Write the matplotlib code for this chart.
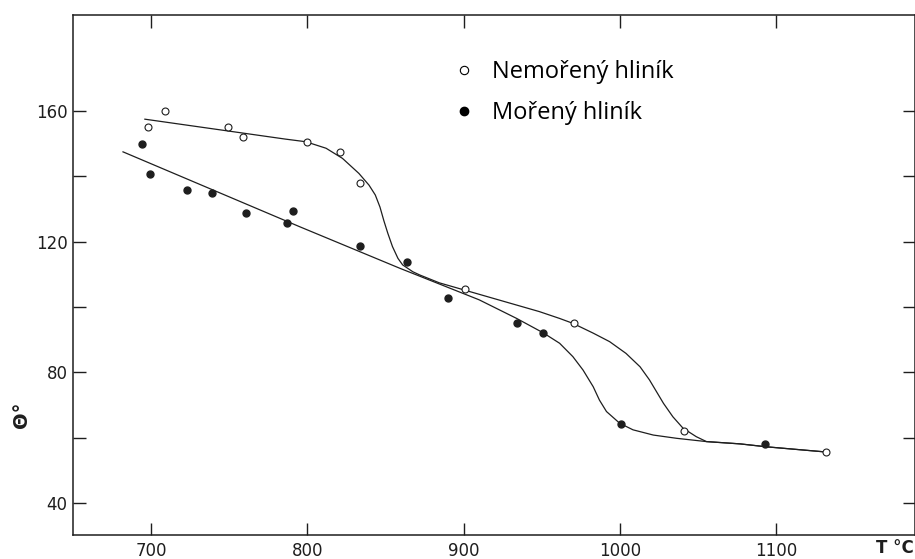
import matplotlib.pyplot as plt
from matplotlib.lines import Line2D

# measured points, open circles (Nemoreny)
open_T = [698, 709, 749, 759, 800, 821, 834, 901, 971, 1041, 1132]
open_theta = [155, 160, 155, 152, 150.5, 147.5, 138, 105.6, 95.2, 62.1, 55.7]

# measured points, filled circles (Moreny)
filled_T = [694, 699, 723, 739, 761, 787, 791, 834, 864, 890, 934, 951, 1001, 1093]
filled_theta = [150, 140.7, 135.8, 134.9, 128.8, 125.7, 129.4, 118.7, 113.8, 102.8,
                95.2, 92.1, 64.3, 58.2]

# hand drawn guide curves
open_curve_T = [696, 786, 799, 812, 822.5, 833, 839.5, 843.5, 846.5, 849, 851.5, 854.5,
                858, 861, 867.5, 872, 884.5, 900.5, 948.5, 961.5, 970, 983, 993.5,
                1004, 1013, 1019, 1023.5, 1028, 1034, 1040.5, 1049, 1055.5, 1077,
                1094, 1130]
open_curve_theta = [157.5, 151.4, 150.6, 148.6, 145.5, 140.9, 137.3, 134.3, 130.6,
                    126.4, 122.6, 118.5, 114.9, 112.9, 110.8, 109.8, 107.4, 105.2,
                    98.6, 96.5, 95.0, 92.0, 89.4, 85.8, 81.7, 77.7, 74.1, 70.5, 66.4,
                    62.9, 60.3, 58.8, 58.1, 57.2, 55.7]

filled_curve_T = [682, 795, 859, 910, 934, 951, 961.5, 970, 976.5, 983, 987, 991.5,
                  1000, 1008.5, 1021.5, 1036.5, 1055.5, 1077, 1094, 1130]
filled_curve_theta = [147.5, 124.6, 111.9, 102.2, 96.5, 92.1, 88.9, 84.8, 80.7, 75.6,
                      71.5, 68.0, 64.4, 62.4, 60.8, 59.8, 58.8, 58.1, 57.2, 55.7]

x_ticks = [700, 800, 900, 1000, 1100]
y_ticks = [40, 60, 80, 100, 120, 140, 160]
y_ticklabels = ['40', '', '80', '', '120', '', '160']

ink = '#1e1e1e'

fig = plt.figure(figsize=(9.15, 5.59), dpi=100)
ax = fig.add_axes([0.0798, 0.0429, 0.9202, 0.9303])

ax.plot(open_curve_T, open_curve_theta, color=ink, lw=0.9)
ax.plot(filled_curve_T, filled_curve_theta, color=ink, lw=0.9)
ax.plot(open_T, open_theta, 'o', ms=5, mfc='white', mec=ink, mew=0.8)
ax.plot(filled_T, filled_theta, 'o', ms=5, mfc=ink, mec=ink)

ax.set_xlim(650, 1189)
ax.set_ylim(30.2, 189.4)

ax.set_xticks(x_ticks)
ax.set_yticks(y_ticks)
ax.set_yticklabels(y_ticklabels)
ax.tick_params(axis='both', direction='in', length=9, width=1.0, labelsize=12,
               colors=ink, top=True, right=True)
ax.tick_params(axis='x', pad=5)
ax.tick_params(axis='y', pad=4)
for s in ax.spines.values():
    s.set_linewidth(1.1)
    s.set_color(ink)

fig.text(22 / 915, 1 - 415 / 559, 'Θ°', rotation=90, ha='center', va='center',
         fontsize=14, fontweight='bold', color=ink)
fig.text(895 / 915, 1 - 548 / 559, 'T °C', ha='center', va='center',
         fontsize=12, fontweight='bold', color=ink)

handles = [
    Line2D([], [], ls='none', marker='o', ms=6, mfc='white', mec='black', mew=0.8),
    Line2D([], [], ls='none', marker='o', ms=6, mfc='black', mec='black'),
]
ax.legend(handles, ['Nemořený hliník', 'Mořený hliník'], loc='upper left',
          bbox_to_anchor=(442.5 / 915, 1 - 48 / 559), bbox_transform=fig.transFigure,
          frameon=False, prop={'family': 'Open Sans', 'size': 17},
          handlelength=0.8, handletextpad=0.78, labelspacing=0.72, borderpad=0)

fig.savefig('out.png', dpi=100)
